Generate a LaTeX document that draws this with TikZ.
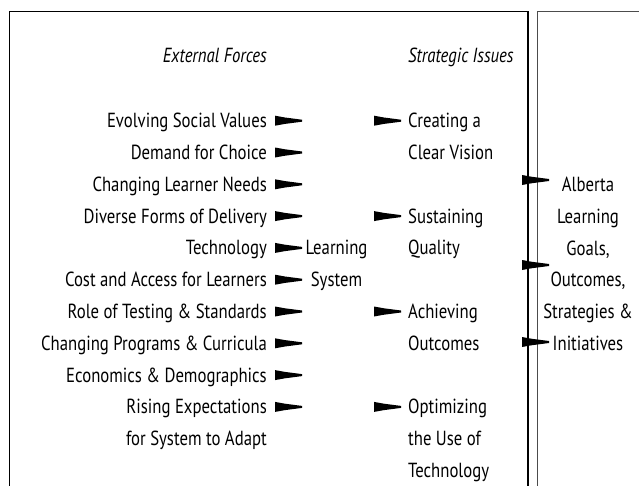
\documentclass[tikz,border=0pt]{standalone}
\usepackage{fontspec}
\setmainfont{PT Sans}[FakeStretch=0.82]
\begin{document}
\begin{tikzpicture}[x=1pt,y=-1pt,
  lbl/.style={font=\fontsize{20.4}{31.8}\selectfont, inner sep=0pt},
  force/.style={lbl, anchor=base east, align=right},
  issue/.style={lbl, anchor=base west, align=left},
  title/.style={lbl, font=\fontsize{20.4}{31.8}\selectfont\itshape},
  frameA/.style={line width=1.3pt, draw=black},
  frameB/.style={line width=1.3pt, draw=black!70},
  wedge/.pic={\fill[black] (0,-5) -- (10,-3.2) -- (27,-1) -- (27,1) -- (10,3.2) -- (0,5) -- cycle;}
]
\useasboundingbox (0,0) rectangle (639,485);
% frames
\draw[frameA] (9.3,490) -- (9.3,11.7) -- (528,11.7) -- (528,490);
\draw[frameB] (537.7,490) -- (537.7,11.7) -- (650,11.7);
% titles
\node[title, anchor=base east] (tf) at (267,62) {External Forces};
\node[title, anchor=base west] (ti) at (408,62) {Strategic Issues};
% forces (base anchor = last line)
\node[force] (f1) at (267,127.7) {Evolving Social Values};
\node[force] (f2) at (267,159.5) {Demand for Choice};
\node[force] (f3) at (267,191.3) {Changing Learner Needs};
\node[force] (f4) at (267,223.1) {Diverse Forms of Delivery};
\node[force] (f5) at (267,254.9) {Technology};
\node[force] (f6) at (267,286.7) {Cost and Access for Learners};
\node[force] (f7) at (267,318.5) {Role of Testing \& Standards};
\node[force] (f8) at (267,350.3) {Changing Programs \& Curricula};
\node[force] (f9) at (267,382.1) {Economics \& Demographics};
\node[force] (f10) at (267,445.7) {Rising Expectations\\for System to Adapt};
\foreach \n in {f1,f2,f3,f4,f5,f6,f7,f8,f9}
  \pic at ([xshift=8pt,yshift=7pt]\n.base east) {wedge};
\pic at ([xshift=8pt,yshift=38.8pt]f10.base east) {wedge};
% learning system
\node[lbl, anchor=base, align=center] (ls) at (336.5,286.7) {Learning\\System};
% issues
\node[issue] (i1) at (408,159.5) {Creating a\\Clear Vision};
\node[issue] (i2) at (408,254.9) {Sustaining\\Quality};
\node[issue] (i3) at (408,350.3) {Achieving\\Outcomes};
\node[issue] (i4) at (408,477.5) {Optimizing\\the Use of\\Technology};
\foreach \n in {i1,i2,i3}
  \pic at ([xshift=-34pt,yshift=38.8pt]\n.base west) {wedge};
\pic at ([xshift=-34pt,yshift=70.6pt]i4.base west) {wedge};
% Alberta
\node[lbl, anchor=base, align=center] (ab) at (588,350.5) {Alberta\\Learning\\Goals,\\Outcomes,\\Strategies \&\\Initiatives};
\coordinate (w1) at (522,180);
\coordinate (w2) at (522,265);
\coordinate (w3) at (522,342);
\foreach \n in {w1,w2,w3}
  \pic at (\n) {wedge};
\end{tikzpicture}
\end{document}
